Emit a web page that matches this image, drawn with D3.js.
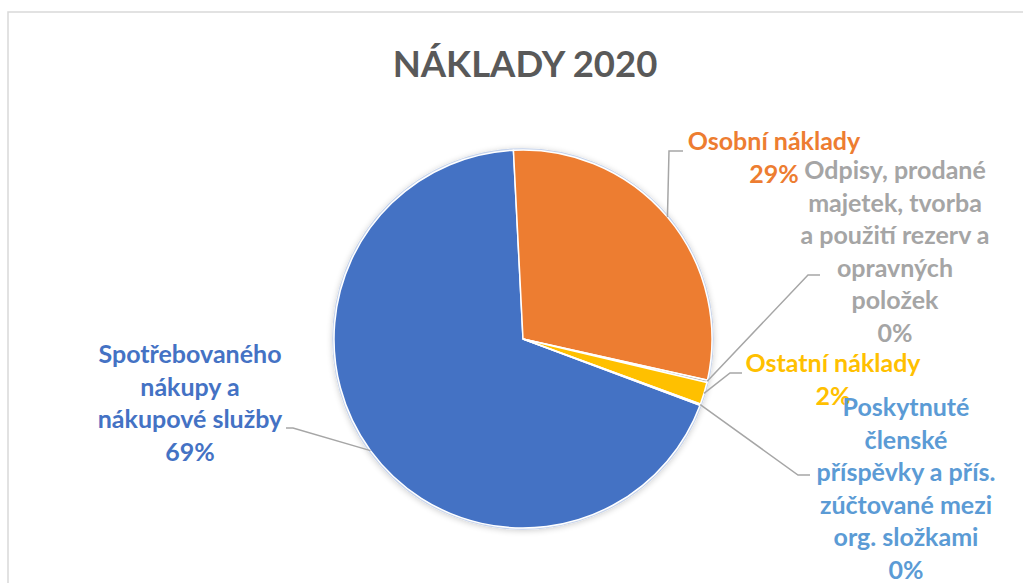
<!DOCTYPE html>
<html>
<head>
<meta charset="utf-8">
<script src="https://cdn.jsdelivr.net/npm/d3@7"></script>
<style>
  body { margin: 0; background: #fff; }
  text { font-family: Lato, "Open Sans", sans-serif; font-weight: bold; }
</style>
</head>
<body>
<div id="chart"></div>
<script>
// data
var categories = ["Spotřebovaného nákupy a nákupové služby", "Osobní náklady",
    "Odpisy, prodané majetek, tvorba a použití rezerv a opravných položek",
    "Ostatní náklady", "Poskytnuté členské příspěvky a přís. zúčtované mezi org. složkami"];
var values = [68.5, 29.3, 0.2, 1.9, 0.1];
var colors = ["#4472C4", "#ED7D31", "#A5A5A5", "#FFC000", "#5B9BD5"];
// label text as broken in the chart
var labelLines = [
    ["Spotřebovaného", "nákupy a", "nákupové služby"],
    ["Osobní náklady"],
    ["Odpisy, prodané", "majetek, tvorba", "a použití rezerv a", "opravných", "položek"],
    ["Ostatní náklady"],
    ["Poskytnuté", "členské", "příspěvky a přís.", "zúčtované mezi", "org. složkami"]
];

var width = 1023, height = 583;
var cx = 523, cy = 339, r = 189;
var lineH = 32.5;

// label layout: centre x, first baseline, leader elbow and end
var labelPos = [
    {x: 190, y: 363, elbow: [293, 428], end: [286, 428]},
    {x: 774, y: 150, elbow: [669, 151], end: [683, 151]},
    {x: 895, y: 179, elbow: [808, 275], end: [820, 275]},
    {x: 833, y: 372, elbow: [730, 373], end: [742, 373]},
    {x: 906, y: 416, elbow: [798, 475], end: [810, 475]}
];

var svg = d3.select("#chart")
    .append("svg")
    .attr("width", width)
    .attr("height", height);

// chart frame
svg.append("rect")
    .attr("x", 8).attr("y", 12)
    .attr("width", width + 20).attr("height", height + 20)
    .attr("fill", "#fff")
    .attr("stroke", "#d9d9d9")
    .attr("stroke-width", 1.5);

svg.append("text")
    .attr("x", 525).attr("y", 77)
    .attr("text-anchor", "middle")
    .attr("fill", "#595959")
    .style("font-size", "36.5px")
    .text("NÁKLADY 2020");

var defs = svg.append("defs");
var f = defs.append("filter").attr("id", "shadow")
    .attr("x", "-10%").attr("y", "-10%").attr("width", "120%").attr("height", "120%");
f.append("feGaussianBlur").attr("in", "SourceAlpha").attr("stdDeviation", 3);
f.append("feOffset").attr("dx", 0).attr("dy", 1).attr("result", "b");
f.append("feComponentTransfer").append("feFuncA").attr("type", "linear").attr("slope", 0.2);
var fm = f.append("feMerge");
fm.append("feMergeNode");
fm.append("feMergeNode").attr("in", "SourceGraphic");

var start = 110.5 * Math.PI / 180;
var pie = d3.pie().sort(null).value(function (d) { return d; })
    .startAngle(start).endAngle(start + 2 * Math.PI);
var arcs = pie(values);
var total = d3.sum(values);

var arc = d3.arc().innerRadius(0).outerRadius(r);
var edge = d3.arc().innerRadius(r).outerRadius(r);

var g = svg.append("g")
    .attr("transform", "translate(" + cx + "," + cy + ")");

g.append("circle")
    .attr("r", r + 0.5)
    .attr("fill", "#fff")
    .attr("stroke", "#c5d3ec")
    .attr("stroke-width", 2.5)
    .attr("filter", "url(#shadow)");

g.selectAll("path.slice")
    .data(arcs)
    .enter()
    .append("path")
    .attr("class", "slice")
    .attr("d", arc)
    .attr("fill", function (d, i) { return colors[i]; })
    .attr("stroke", "#fff")
    .attr("stroke-width", 1.5);

// leader lines
svg.selectAll("polyline.leader")
    .data(arcs)
    .enter()
    .append("polyline")
    .attr("class", "leader")
    .attr("points", function (d, i) {
        var c = edge.centroid(d);
        var p = labelPos[i];
        return [[cx + c[0], cy + c[1]], p.elbow, p.end].join(" ");
    })
    .attr("fill", "none")
    .attr("stroke", "#a6a6a6")
    .attr("stroke-width", 1.5);

// labels
var lab = svg.selectAll("text.lab")
    .data(arcs)
    .enter()
    .append("text")
    .attr("class", "lab")
    .attr("text-anchor", "middle")
    .attr("fill", function (d, i) { return colors[i]; })
    .style("font-size", "25px");

lab.each(function (d, i) {
    var lines = labelLines[i].concat([Math.round(d.value / total * 100) + "%"]);
    var t = d3.select(this);
    lines.forEach(function (s, k) {
        t.append("tspan")
            .attr("x", labelPos[i].x)
            .attr("y", labelPos[i].y + k * lineH)
            .text(s);
    });
});
</script>
</body>
</html>
